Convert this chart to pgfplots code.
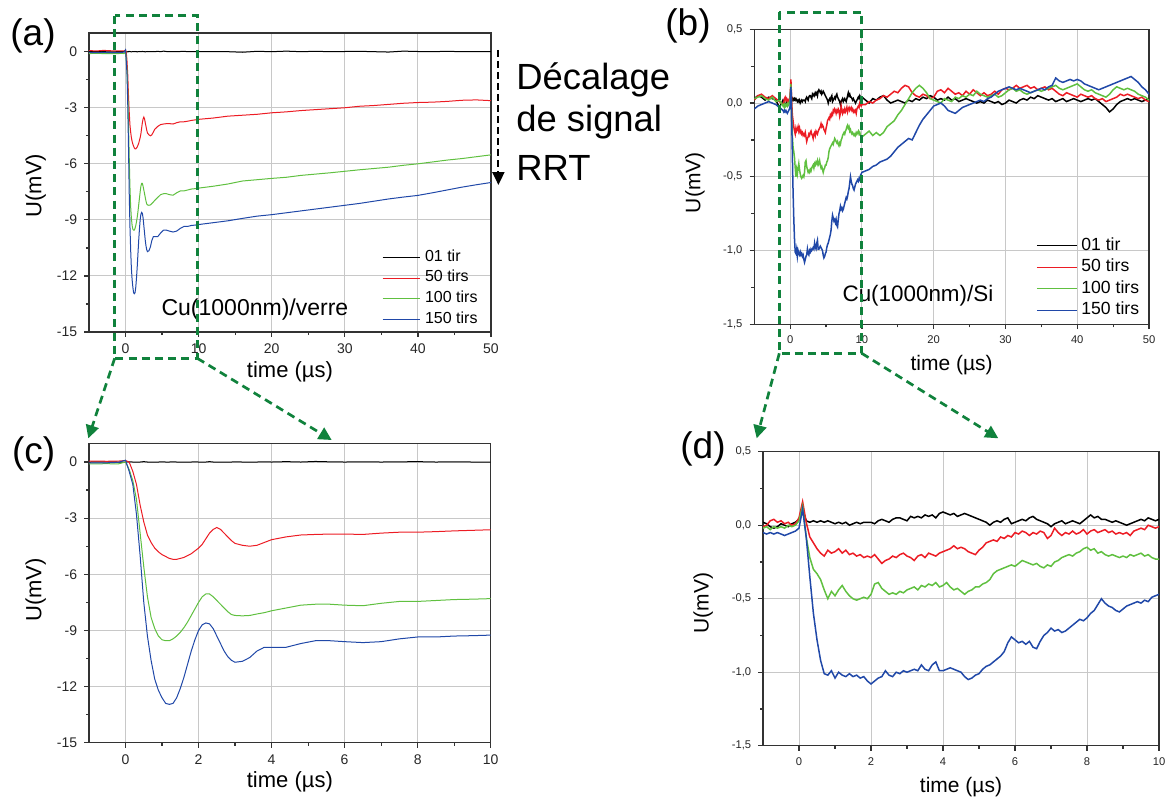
\documentclass[border=0pt]{standalone}
\usepackage{pgfplots}
\pgfplotsset{compat=1.18}
\usepackage{pgfplotstable}
\usepackage{fontspec}
\setmainfont{Liberation Sans}
\usetikzlibrary{arrows.meta}

\definecolor{cred}{RGB}{236,28,36}
\definecolor{cgreen}{RGB}{96,192,64}
\definecolor{cblue}{RGB}{32,72,168}
\definecolor{cbox}{RGB}{16,130,60}
\definecolor{cgrid}{RGB}{200,200,200}

% Cu(1000nm)/verre : panels (a) and (c)
\pgfplotstableread{
x k r g b
-5 0.00 0.06 -0.10 -0.04
-4 0.01 0.04 -0.09 -0.05
-3 0.00 0.07 -0.10 -0.04
-2 -0.01 0.05 -0.10 -0.05
-1 0.00 0.05 -0.10 -0.05
-0.5 0.01 0.04 -0.09 -0.04
-0.2 0.00 0.05 -0.10 -0.02
0 0.00 0.08 0.00 0.10
0.1 0.01 0.00 -0.40 -0.50
0.2 0.00 -0.50 -1.00 -1.20
0.3 -0.01 -1.20 -2.00 -2.80
0.4 0.00 -2.30 -3.80 -5.00
0.5 0.02 -3.20 -5.60 -7.50
0.6 0.00 -3.90 -7.20 -9.30
0.7 0.00 -4.30 -8.30 -10.60
0.8 -0.01 -4.60 -8.90 -11.60
0.9 0.00 -4.80 -9.30 -12.20
1.0 0.01 -4.95 -9.50 -12.60
1.1 0.00 -5.05 -9.55 -12.90
1.2 0.00 -5.15 -9.55 -12.95
1.3 0.01 -5.20 -9.45 -12.90
1.4 0.00 -5.20 -9.30 -12.60
1.5 0.00 -5.15 -9.10 -12.10
1.6 -0.01 -5.10 -8.85 -11.50
1.7 0.00 -5.00 -8.55 -10.80
1.8 0.00 -4.90 -8.20 -10.10
1.9 0.01 -4.75 -7.85 -9.50
2.0 0.00 -4.60 -7.50 -9.00
2.1 0.00 -4.40 -7.20 -8.70
2.2 0.00 -4.10 -7.05 -8.60
2.3 0.02 -3.80 -7.05 -8.65
2.4 0.00 -3.60 -7.20 -8.90
2.5 0.00 -3.50 -7.40 -9.30
2.6 0.00 -3.60 -7.60 -9.70
2.7 -0.01 -3.80 -7.80 -10.10
2.8 0.00 -4.00 -8.00 -10.40
2.9 0.00 -4.20 -8.15 -10.60
3.0 0.01 -4.35 -8.20 -10.70
3.2 0.00 -4.45 -8.22 -10.65
3.4 0.00 -4.50 -8.20 -10.45
3.6 0.00 -4.45 -8.12 -10.10
3.8 0.01 -4.30 -8.05 -9.90
4.0 0.00 -4.15 -7.95 -9.90
4.4 0.02 -4.00 -7.80 -9.90
4.8 0.00 -3.90 -7.65 -9.70
5.2 0.03 -3.87 -7.60 -9.55
5.6 0.01 -3.85 -7.60 -9.55
6.0 0.00 -3.85 -7.65 -9.60
6.5 0.01 -3.87 -7.68 -9.65
7.0 0.00 -3.80 -7.55 -9.60
7.5 0.01 -3.75 -7.45 -9.45
8.0 0.02 -3.75 -7.45 -9.35
8.5 0.00 -3.72 -7.40 -9.35
9.0 0.01 -3.68 -7.35 -9.30
9.5 0.00 -3.65 -7.33 -9.28
10 0.00 -3.62 -7.30 -9.25
12 0.01 -3.55 -7.20 -9.15
14 0.00 -3.45 -7.08 -9.05
16 -0.03 -3.40 -6.92 -8.92
18 0.02 -3.35 -6.85 -8.80
20 0.00 -3.27 -6.78 -8.72
22 0.03 -3.22 -6.72 -8.62
24 0.00 -3.15 -6.62 -8.52
26 0.02 -3.10 -6.55 -8.42
28 0.00 -3.05 -6.48 -8.32
30 0.01 -3.00 -6.40 -8.22
32 0.02 -2.92 -6.32 -8.12
34 0.00 -2.88 -6.25 -8.00
36 -0.02 -2.82 -6.18 -7.88
38 0.03 -2.76 -6.08 -7.78
40 0.01 -2.72 -6.00 -7.69
42 0.00 -2.70 -5.90 -7.55
44 0.02 -2.66 -5.80 -7.40
46 0.00 -2.60 -5.72 -7.25
48 0.01 -2.58 -5.62 -7.12
50 0.00 -2.62 -5.52 -7.00
}\tabA

% Cu(1000nm)/Si : panels (b) and (d)
\pgfplotstableread{
x k r g b
-5 0.03 0.02 0.03 -0.04
-4.5 0.05 0.05 0.04 -0.02
-4 0.04 0.06 0.05 -0.01
-3.5 0.02 0.04 0.03 0.00
-3 0.04 0.03 0.02 0.01
-2.5 0.03 0.05 0.04 0.00
-2 0.02 0.03 0.01 -0.01
-1.5 -0.03 0.01 0.02 -0.03
-1.0 0.02 -0.01 -0.02 -0.05
-0.9 0.01 0.00 -0.01 -0.06
-0.8 -0.01 0.03 -0.03 -0.05
-0.7 -0.02 0.04 -0.01 -0.06
-0.6 -0.01 0.02 -0.02 -0.05
-0.5 0.01 0.03 -0.01 -0.06
-0.4 0.00 0.01 -0.02 -0.07
-0.3 -0.01 0.02 0.00 -0.06
-0.2 0.01 0.00 -0.01 -0.05
-0.1 0.02 0.01 0.00 -0.04
0.0 0.04 0.05 0.03 -0.02
0.1 0.11 0.16 0.13 0.11
0.2 0.03 0.02 -0.08 -0.08
0.3 0.02 -0.08 -0.22 -0.35
0.4 0.03 -0.12 -0.30 -0.60
0.5 0.02 -0.16 -0.33 -0.78
0.6 0.03 -0.19 -0.37 -0.92
0.7 0.02 -0.21 -0.44 -1.01
0.8 0.03 -0.17 -0.50 -1.02
0.9 0.02 -0.19 -0.45 -0.99
1.0 0.01 -0.18 -0.48 -1.04
1.1 0.02 -0.16 -0.44 -1.00
1.2 0.01 -0.19 -0.41 -1.02
1.3 0.02 -0.17 -0.45 -1.03
1.4 0.00 -0.20 -0.48 -1.01
1.5 0.01 -0.19 -0.50 -1.03
1.6 0.02 -0.21 -0.51 -1.02
1.7 0.01 -0.20 -0.50 -1.04
1.8 0.02 -0.22 -0.49 -1.03
1.9 0.02 -0.21 -0.50 -1.06
2.0 0.02 -0.22 -0.47 -1.08
2.1 0.01 -0.20 -0.40 -1.06
2.2 0.03 -0.23 -0.39 -1.04
2.3 0.04 -0.26 -0.43 -1.03
2.4 0.03 -0.24 -0.45 -0.99
2.5 0.02 -0.23 -0.47 -1.02
2.6 0.04 -0.21 -0.46 -1.03
2.7 0.05 -0.22 -0.47 -1.00
2.8 0.05 -0.20 -0.45 -1.01
2.9 0.04 -0.19 -0.46 -0.99
3.0 0.03 -0.21 -0.44 -1.00
3.1 0.06 -0.22 -0.43 -0.99
3.2 0.05 -0.24 -0.42 -0.98
3.3 0.06 -0.21 -0.44 -0.99
3.4 0.05 -0.20 -0.41 -0.95
3.5 0.07 -0.22 -0.42 -0.98
3.6 0.06 -0.19 -0.40 -0.99
3.7 0.07 -0.20 -0.41 -0.95
3.8 0.05 -0.21 -0.39 -0.93
3.9 0.08 -0.19 -0.42 -0.99
4.0 0.09 -0.18 -0.41 -0.99
4.1 0.08 -0.17 -0.39 -0.98
4.2 0.07 -0.16 -0.42 -0.97
4.3 0.08 -0.14 -0.44 -0.98
4.4 0.06 -0.16 -0.43 -0.99
4.5 0.07 -0.15 -0.45 -1.00
4.6 0.08 -0.16 -0.47 -1.03
4.7 0.07 -0.18 -0.45 -1.05
4.8 0.06 -0.19 -0.44 -1.04
4.9 0.05 -0.20 -0.42 -1.02
5.0 0.04 -0.17 -0.42 -1.01
5.1 0.03 -0.15 -0.40 -0.98
5.2 0.02 -0.12 -0.39 -0.96
5.3 0.00 -0.11 -0.37 -0.95
5.4 0.02 -0.10 -0.33 -0.93
5.5 0.03 -0.11 -0.31 -0.91
5.6 0.02 -0.08 -0.30 -0.89
5.7 0.04 -0.09 -0.29 -0.86
5.8 0.05 -0.07 -0.28 -0.80
5.9 0.01 -0.08 -0.27 -0.76
6.0 0.02 -0.05 -0.28 -0.78
6.1 0.03 -0.06 -0.26 -0.80
6.2 0.04 -0.04 -0.24 -0.79
6.3 0.03 -0.05 -0.25 -0.81
6.4 0.05 -0.07 -0.26 -0.79
6.5 0.06 -0.05 -0.27 -0.83
6.6 0.04 -0.06 -0.26 -0.84
6.7 0.03 -0.04 -0.28 -0.79
6.8 0.02 -0.05 -0.29 -0.75
6.9 0.01 -0.09 -0.27 -0.73
7.0 -0.01 -0.07 -0.28 -0.70
7.1 0.01 -0.02 -0.25 -0.72
7.2 0.02 -0.05 -0.24 -0.71
7.3 0.03 -0.07 -0.22 -0.73
7.4 0.01 -0.05 -0.21 -0.72
7.5 0.02 -0.06 -0.20 -0.70
7.6 0.03 -0.04 -0.21 -0.68
7.7 0.02 -0.06 -0.19 -0.66
7.8 0.01 -0.05 -0.18 -0.64
7.9 0.03 -0.03 -0.16 -0.65
8.0 0.05 -0.06 -0.15 -0.63
8.1 0.07 -0.04 -0.17 -0.60
8.2 0.05 -0.03 -0.16 -0.58
8.3 0.06 -0.05 -0.19 -0.54
8.4 0.04 -0.04 -0.18 -0.50
8.5 0.04 -0.03 -0.20 -0.53
8.6 0.03 -0.05 -0.21 -0.55
8.7 0.02 -0.04 -0.20 -0.56
8.8 0.03 -0.06 -0.21 -0.58
8.9 0.02 -0.05 -0.22 -0.59
9.0 0.01 -0.06 -0.21 -0.57
9.1 0.00 -0.05 -0.22 -0.55
9.2 0.01 -0.07 -0.20 -0.54
9.3 0.02 -0.04 -0.21 -0.53
9.4 0.03 -0.03 -0.20 -0.52
9.5 0.04 -0.02 -0.19 -0.53
9.6 0.03 -0.03 -0.21 -0.51
9.7 0.05 0.00 -0.20 -0.52
9.8 0.04 -0.01 -0.22 -0.49
9.9 0.03 -0.02 -0.23 -0.48
10.0 0.04 -0.01 -0.23 -0.47
10.5 0.02 -0.01 -0.21 -0.46
11 0.00 0.01 -0.19 -0.45
11.5 0.03 0.00 -0.22 -0.43
12 0.02 0.02 -0.20 -0.42
12.5 0.04 0.03 -0.22 -0.40
13 0.05 0.05 -0.20 -0.39
13.5 0.02 0.04 -0.16 -0.38
14 0.00 0.06 -0.14 -0.36
14.5 0.01 0.08 -0.12 -0.33
15 0.02 0.07 -0.08 -0.30
15.5 0.01 0.10 -0.05 -0.28
16 0.00 0.12 -0.01 -0.26
16.5 0.02 0.11 0.03 -0.24
17 0.01 0.07 0.07 -0.25
17.5 0.03 0.05 0.10 -0.20
18 0.02 0.04 0.12 -0.15
18.5 0.04 0.06 0.10 -0.11
19 0.03 0.05 0.07 -0.08
19.5 0.05 0.03 0.03 -0.05
20 0.04 0.04 0.02 -0.02
20.5 0.02 0.08 0.01 -0.01
21 0.03 0.09 0.00 0.00
21.5 0.02 0.07 0.03 -0.02
22 0.04 0.10 0.02 -0.05
22.5 0.02 0.08 0.01 -0.06
23 0.03 0.06 0.04 -0.07
23.5 0.01 0.07 0.03 -0.05
24 0.02 0.05 0.05 -0.03
24.5 0.03 0.08 0.04 -0.02
25 0.02 0.06 0.06 -0.01
25.5 0.01 0.09 0.05 0.00
26 0.00 0.07 0.08 0.01
26.5 0.01 0.05 0.06 0.02
27 0.00 0.07 0.05 0.01
27.5 0.02 0.05 0.04 0.03
28 0.01 0.06 0.05 0.04
28.5 0.00 0.08 0.06 0.06
29 0.01 0.06 0.04 0.08
29.5 -0.01 0.09 0.05 0.09
30 0.00 0.10 0.07 0.10
30.5 0.02 0.09 0.09 0.11
31 0.01 0.10 0.10 0.10
31.5 0.00 0.12 0.08 0.09
32 0.02 0.10 0.09 0.10
32.5 0.03 0.11 0.07 0.09
33 0.02 0.12 0.06 0.08
33.5 0.04 0.10 0.07 0.07
34 0.03 0.11 0.08 0.08
34.5 0.05 0.09 0.09 0.09
35 0.04 0.10 0.08 0.10
35.5 0.03 0.11 0.09 0.09
36 0.02 0.09 0.10 0.11
36.5 0.03 0.10 0.11 0.12
37 0.01 0.08 0.12 0.17
37.5 0.02 0.06 0.10 0.15
38 0.03 0.05 0.09 0.14
38.5 0.01 0.07 0.10 0.15
39 0.02 0.06 0.11 0.16
39.5 0.03 0.05 0.12 0.15
40 0.02 0.04 0.13 0.16
40.5 0.01 0.06 0.11 0.15
41 0.02 0.05 0.09 0.13
41.5 0.03 0.04 0.08 0.12
42 0.02 0.05 0.09 0.11
42.5 0.03 0.03 0.07 0.10
43 0.01 0.02 0.06 0.09
43.5 -0.01 0.03 0.05 0.10
44 -0.03 0.01 0.04 0.11
44.5 -0.06 0.02 0.06 0.12
45 -0.04 0.03 0.09 0.13
45.5 -0.01 0.04 0.11 0.14
46 0.01 0.06 0.10 0.15
46.5 0.02 0.05 0.09 0.16
47 0.03 0.06 0.10 0.17
47.5 0.02 0.05 0.09 0.18
48 0.03 0.04 0.08 0.16
48.5 0.02 0.03 0.06 0.14
49 0.01 0.04 0.05 0.11
49.5 0.02 0.02 0.04 0.09
50 0.03 0.01 0.02 0.06
}\tabB

\pgfplotsset{
  panel/.style={
    scale only axis, anchor=south west,
    axis line style={black!80, line width=0.7pt},
    tick align=outside, xtick pos=bottom, ytick pos=left,
    grid=major, major grid style={cgrid, line width=0.5pt},
    minor x tick num=1, minor y tick num=1,
    major tick length=2.4pt, minor tick length=1.5pt,
    every tick/.style={black!80, line width=0.6pt},
    /pgf/number format/assume math mode=true,
    ticklabel style={text=black!85},
    every axis plot/.append style={line width=0.5pt},
    legend cell align=left,
    legend image code/.code={\draw[##1] (0pt,0pt) -- (18.5pt,0pt);},
    xlabel={time (µs)}, ylabel={U(mV)},
  },
  bigtick/.style={ticklabel style={font=\fontsize{7}{8}\selectfont}},
  smalltick/.style={ticklabel style={font=\fontsize{5.6}{6.5}\selectfont},
    yticklabels={{-1,5},{-1,0},{-0,5},{0,0},{0,5}}, ytick={-1.5,-1,-0.5,0,0.5}},
}

\begin{document}
\begin{tikzpicture}
\useasboundingbox (0,0) rectangle (582.5pt,400pt);

% ---------------- (a)
\begin{axis}[panel, bigtick, at={(44.5pt,234pt)}, width=201pt, height=149.5pt,
  xmin=-5, xmax=50, ymin=-15, ymax=1,
  xtick={0,10,...,50}, ytick={-15,-12,...,0},
  every axis x label/.style={at={(axis description cs:0.5,0)}, anchor=center, yshift=-19.8pt, font=\fontsize{11}{12}\selectfont},
  every axis y label/.style={at={(axis description cs:-0.1328,0.49)}, rotate=90, anchor=center, font=\fontsize{11}{12}\selectfont},
  legend style={draw=none, fill=none, inner sep=0pt, row sep=0pt, column sep=2.5pt,
    nodes={inner sep=0pt, text height=7pt, text depth=3.35pt, font=\fontsize{8}{9}\selectfont},
    at={(axis description cs:0.728,0.285)}, anchor=north west},
]
\addplot[black] table[x=x, y=k] {\tabA};
\addplot[cred] table[x=x, y=r] {\tabA};
\addplot[cgreen] table[x=x, y=g] {\tabA};
\addplot[cblue] table[x=x, y=b] {\tabA};
\legend{01 tir, 50 tirs, 100 tirs, 150 tirs}
\node[font=\fontsize{11.5}{12}\selectfont, inner sep=0pt] at (axis cs:17.7,-13.8) {Cu(1000nm)/verre};
\end{axis}

% ---------------- (b)
\begin{axis}[panel, smalltick, at={(377.15pt,237.85pt)}, width=197.35pt, height=147.5pt,
  xmin=-5, xmax=50, ymin=-1.5, ymax=0.5,
  xtick={0,10,...,50},
  every axis x label/.style={at={(axis description cs:0.5,0)}, anchor=center, yshift=-20.3pt, font=\fontsize{10.5}{12}\selectfont},
  every axis y label/.style={at={(axis description cs:-0.1505,0.48)}, rotate=90, anchor=center, font=\fontsize{10.5}{12}\selectfont},
  every axis plot/.append style={line width=0.75pt},
  legend style={draw=none, fill=none, inner sep=0pt, row sep=0pt, column sep=2pt,
    nodes={inner sep=0pt, text height=7.5pt, text depth=3.25pt, font=\fontsize{8.8}{10}\selectfont},
    at={(axis description cs:0.7137,0.304)}, anchor=north west},
  legend image code/.code={\draw[#1, line width=0.5pt] (0pt,0pt) -- (20pt,0pt);},
]
\addplot[black] table[x=x, y=k] {\tabB};
\addplot[cred] table[x=x, y=r] {\tabB};
\addplot[cgreen] table[x=x, y=g] {\tabB};
\addplot[cblue] table[x=x, y=b] {\tabB};
\legend{01 tir, 50 tirs, 100 tirs, 150 tirs}
\node[font=\fontsize{11.2}{12}\selectfont, inner sep=0pt] at (axis cs:17.8,-1.308) {Cu(1000nm)/Si};
\end{axis}

% ---------------- (c)
\begin{axis}[panel, bigtick, at={(44.5pt,28.65pt)}, width=200.85pt, height=149.7pt,
  xmin=-1, xmax=10, ymin=-15, ymax=1,
  xtick={0,2,...,10}, ytick={-15,-12,...,0},
  every axis x label/.style={at={(axis description cs:0.5,0)}, anchor=center, yshift=-19.5pt, font=\fontsize{11}{12}\selectfont},
  every axis y label/.style={at={(axis description cs:-0.1329,0.51)}, rotate=90, anchor=center, font=\fontsize{11}{12}\selectfont},
]
\addplot[black] table[x=x, y=k] {\tabA};
\addplot[cred] table[x=x, y=r] {\tabA};
\addplot[cgreen] table[x=x, y=g] {\tabA};
\addplot[cblue] table[x=x, y=b] {\tabA};
\end{axis}

% ---------------- (d)
\begin{axis}[panel, smalltick, at={(381.5pt,27.15pt)}, width=198pt, height=147pt,
  xmin=-1, xmax=10, ymin=-1.5, ymax=0.5,
  xtick={0,2,...,10},
  every axis x label/.style={at={(axis description cs:0.5,0)}, anchor=center, yshift=-20.5pt, font=\fontsize{10.5}{12}\selectfont},
  every axis y label/.style={at={(axis description cs:-0.151,0.485)}, rotate=90, anchor=center, font=\fontsize{10.5}{12}\selectfont},
  every axis plot/.append style={line width=0.75pt},
]
\addplot[black] table[x=x, y=k] {\tabB};
\addplot[cred] table[x=x, y=r] {\tabB};
\addplot[cgreen] table[x=x, y=g] {\tabB};
\addplot[cblue] table[x=x, y=b] {\tabB};
\end{axis}

% ---------------- annotations
\tikzset{zoombox/.style={cbox, line width=1.35pt, dash pattern=on 4pt off 2.6pt},
         zoomarrow/.style={zoombox, -{Triangle[length=6.5pt,width=6.5pt]}}}
\draw[zoombox] (57.35pt,392.15pt) rectangle (98.65pt,220.85pt);
\draw[zoomarrow] (57.35pt,220.85pt) -- (44.15pt,180.85pt);
\draw[zoomarrow] (98.65pt,220.85pt) -- (165.85pt,180pt);
\draw[zoombox] (389.65pt,393.85pt) rectangle (430.85pt,223.35pt);
\draw[zoomarrow] (389.65pt,223.35pt) -- (378.35pt,180.85pt);
\draw[zoomarrow] (430.85pt,223.35pt) -- (499.15pt,180.85pt);

\draw[black, line width=1pt, dash pattern=on 3.5pt off 2pt, -{Triangle[length=6.5pt,width=6pt]}] (249.2pt,375pt) -- (249.2pt,307.5pt);

\begin{scope}[every node/.style={inner sep=0pt, anchor=base west, font=\fontsize{18.2}{20}\selectfont}]
\node at (258pt,355.35pt) {Décalage};
\node at (258pt,334.15pt) {de signal};
\node at (258pt,310pt) {RRT};
\end{scope}

\begin{scope}[every node/.style={inner sep=0pt, anchor=base west, font=\fontsize{18.5}{20}\selectfont}]
\node at (5pt,377.25pt) {(a)};
\node at (332.5pt,382.25pt) {(b)};
\node at (5.8pt,168.05pt) {(c)};
\node at (340pt,170.55pt) {(d)};
\end{scope}
\end{tikzpicture}
\end{document}
